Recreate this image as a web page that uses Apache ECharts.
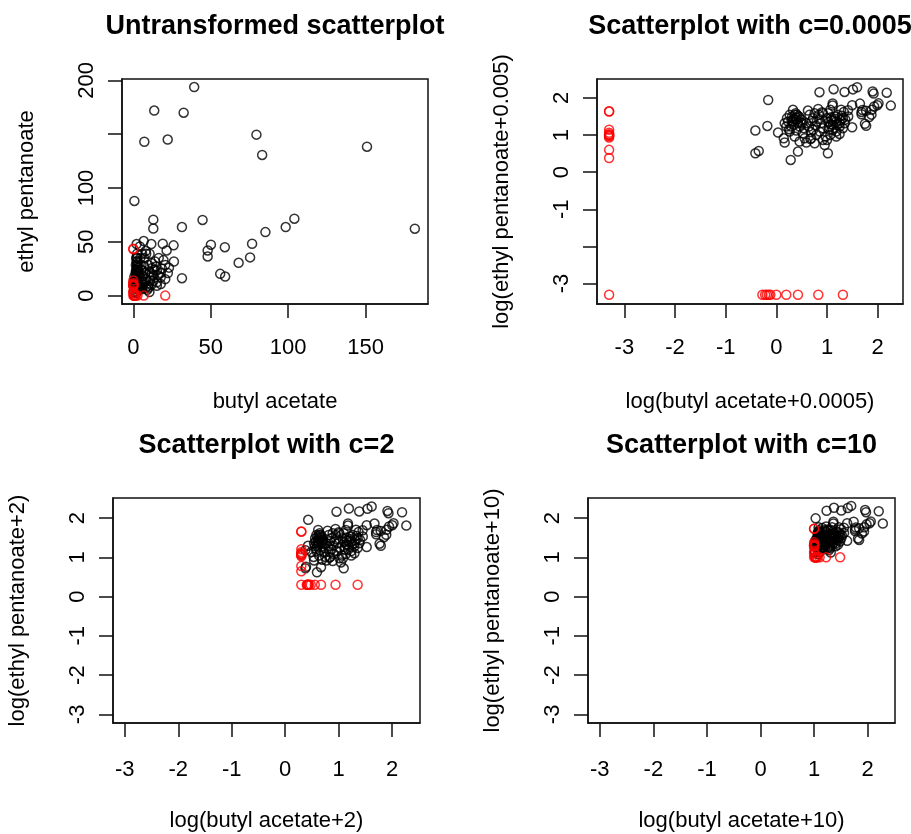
<!DOCTYPE html>
<html>
<head>
<meta charset="utf-8">
<script src="https://cdn.jsdelivr.net/npm/echarts@6.0.0/dist/echarts.min.js"></script>
<style>
html,body{margin:0;padding:0;background:#fff;}
#chart{width:911px;height:834px;}
</style>
</head>
<body>
<div id="chart"></div>
<script>
// ---- Raw data ----
// black points: butyl acetate / ethyl pentanoate (both > 0)
var blackButyl = [
 39.3,13.5,32.5,79.5,7.1,22.2,83.2,150.9,0.69,12.9,12.9,31.4,44.7,6.7,19,21.5,26,26.2,31.4,50.1,48,48,59.1,56.1,59.3,68,75.4,76.7,85.3,98.4,104,181.8,8,
 0.385,0.664,0.385,0.449,1.08,1.40,1.46,1.92,2.67,1.57,1.70,1.83,2.13,2.30,2.48,2.88,2.13,1.98,2.67,3.11,2.41,1.83,2.30,2.88,3.36,3.62,3.91,4.9,4.2,5.3,6.9,8.3,
 9.7,12.2,15.2,17.7,13.1,10.9,15.2,17.7,7.7,8.3,9.4,10,9.0,10.4,15.2,17.7,
 1.46,1.62,2.04,2.56,2.2,1.78,2.88,3.26,2.48,4.4,5.3,6.15,7.2,10.5,11.6,16.4,20.6,14.1,22.3,13.1,11.6,20.6,8.3,5.7,4.7,5.7,6.3,4.5,3.9,3.5,
 10.7,11.8,13.5,14.5,16,12,18.5,11,19.5,23,5.0,6.0,7.0,4.8,
 2.2,2.5,2.0,2.75,3.0
];
var blackEthyl = [
 193.8,172,170,149.6,143,145,130.7,138.4,88,70.6,62.3,63.7,70.3,50.7,48.2,42,46.7,31.7,16.2,47.3,42,36.4,45,20.2,17.7,30.5,35.5,48.2,59,63.7,71.5,62.2,41.4,
 13.2,17.6,3.24,3.74,11.7,8.2,6.3,2.14,3.6,17,23.2,35,47.9,35,25.7,30,23.2,17,20.9,25.7,38.9,12.4,9.1,6.7,11.2,8.2,6.3,8.2,45.7,28.5,35,38.9,
 28.5,25.7,23.2,20.9,18.8,13.8,12.4,17,20.9,15.3,9.1,7.4,5.4,3.24,9.1,10.7,
 20.9,28.5,31.6,35,18.8,14.4,17,20.9,13.2,17,13.8,10.1,12.4,38.9,47.9,35,28.5,31.6,20.9,13.8,10.1,15.3,7.4,6,7.8,38.9,23.2,35,20.9,15.3,
 22,19.5,24,27,19,30,25,16.5,33,26,24,18,27,12,
 27,29,24,32,22
];
// red points: at least one of the two values is zero
var redButyl = [0,0,0,0,0,0,0,0,0,0,0, 0, 0.53,0.60,0.65,0.71,0.76,1.0,1.57,2.67,6.73,20.6];
var redEthyl = [43,43.6,14,11.5,10.5,10,9.3,8.6,4.0,2.4,9.8, 0, 0,0,0,0,0,0,0,0,0,0];

// constants c of the log transforms (panels 2..4)
var cValues = [0.0005, 2, 10];
var titles = ['Untransformed scatterplot','Scatterplot with c=0.0005','Scatterplot with c=2','Scatterplot with c=10'];
var xNames = ['butyl acetate','log(butyl acetate+0.0005)','log(butyl acetate+2)','log(butyl acetate+10)'];
var yNames = ['ethyl pentanoate','log(ethyl pentanoate+0.005)','log(ethyl pentanoate+2)','log(ethyl pentanoate+10)'];

// tick positions / labels
var rawXTicks = [0,50,100,150];
var rawYTicks = [0,50,100,150,200];
var rawYLabels = [0,50,100,200];
var logTicks = [-3,-2,-1,0,1,2];
var logYLabelsTop = [-3,-1,0,1,2];

// ---- layout ----
var grids = [
 {left:122,top:79,width:306,height:225},
 {left:597,top:79,width:306,height:225},
 {left:113,top:498,width:307,height:225},
 {left:588,top:498,width:307,height:225}
];
var xRanges = [[-7.32,190.3],[-3.54,2.50],[-3.22,2.52],[-3.22,2.51]];
var yRanges = [[-7.8,201.3],[-3.55,2.51],[-3.22,2.51],[-3.22,2.51]];
var xTickVals = [rawXTicks, logTicks, logTicks, logTicks];
var xLabelVals = [rawXTicks, logTicks, logTicks, logTicks];
var yTickVals = [rawYTicks, logTicks, logTicks, logTicks];
var yLabelVals = [rawYLabels, logYLabelsTop, logTicks, logTicks];
var xLabelMargin = [33,33,36,36];
var FONT = '"Liberation Sans", Arial, sans-serif';

function pts(xs, ys, k){
  var out = [];
  for (var i=0;i<xs.length;i++){
    if (k===0) out.push([xs[i], ys[i]]);
    else { var c = cValues[k-1]; out.push([Math.log10(xs[i]+c), Math.log10(ys[i]+c)]); }
  }
  return out;
}

var option = {
  animation:false,
  backgroundColor:'#fff',
  grid: grids.map(function(g){ return {left:g.left,top:g.top,width:g.width,height:g.height,show:true,borderColor:'#111',borderWidth:1.5,backgroundColor:'transparent',containLabel:false,outerBoundsMode:'none'}; }),
  xAxis: grids.map(function(g,k){ return {
    type:'value', gridIndex:k, min:xRanges[k][0], max:xRanges[k][1],
    splitLine:{show:false},
    axisLine:{show:true,onZero:false,lineStyle:{color:'#111',width:1.5}},
    axisTick:{show:true,length:14,customValues:xTickVals[k],lineStyle:{color:'#111',width:1.5}},
    axisLabel:{show:true,customValues:xLabelVals[k],margin:xLabelMargin[k],color:'#000',fontSize:22,fontFamily:FONT,showMinLabel:true,showMaxLabel:true,hideOverlap:false},
    name:xNames[k], nameLocation:'middle', nameGap:87,
    nameTextStyle:{color:'#000',fontSize:22,fontFamily:FONT}
  };}),
  yAxis: grids.map(function(g,k){ return {
    type:'value', gridIndex:k, min:yRanges[k][0], max:yRanges[k][1],
    splitLine:{show:false},
    axisLine:{show:true,onZero:false,lineStyle:{color:'#111',width:1.5}},
    axisTick:{show:true,length:14,customValues:yTickVals[k],lineStyle:{color:'#111',width:1.5}},
    axisLabel:{show:true,customValues:yLabelVals[k],rotate:90,margin:24,color:'#000',fontSize:22,fontFamily:FONT,hideOverlap:false},
    name:yNames[k], nameLocation:'middle', nameGap:84,
    nameTextStyle:{color:'#000',fontSize:22,fontFamily:FONT}
  };}),
  graphic: titles.map(function(t,k){ var g=grids[k]; return {
    type:'text', x:g.left+g.width/2, y:g.top-66,
    style:{text:t, fill:'#000', font:'bold 27px '+FONT, textAlign:'center', textVerticalAlign:'top'}
  };}),
  series: []
};
for (var k=0;k<4;k++){
  option.series.push({type:'scatter', xAxisIndex:k, yAxisIndex:k, data:pts(blackButyl,blackEthyl,k), symbol:'circle', symbolSize:9,
    itemStyle:{color:'rgba(0,0,0,0)', borderColor:'#000', borderWidth:1.5}, emphasis:{disabled:true}});
  option.series.push({type:'scatter', xAxisIndex:k, yAxisIndex:k, data:pts(redButyl,redEthyl,k), symbol:'circle', symbolSize:9,
    itemStyle:{color:'rgba(0,0,0,0)', borderColor:'#ff0000', borderWidth:1.5}, emphasis:{disabled:true}});
}
var chart = echarts.init(document.getElementById('chart'), null, {renderer:'canvas'});
chart.setOption(option);
</script>
</body>
</html>
